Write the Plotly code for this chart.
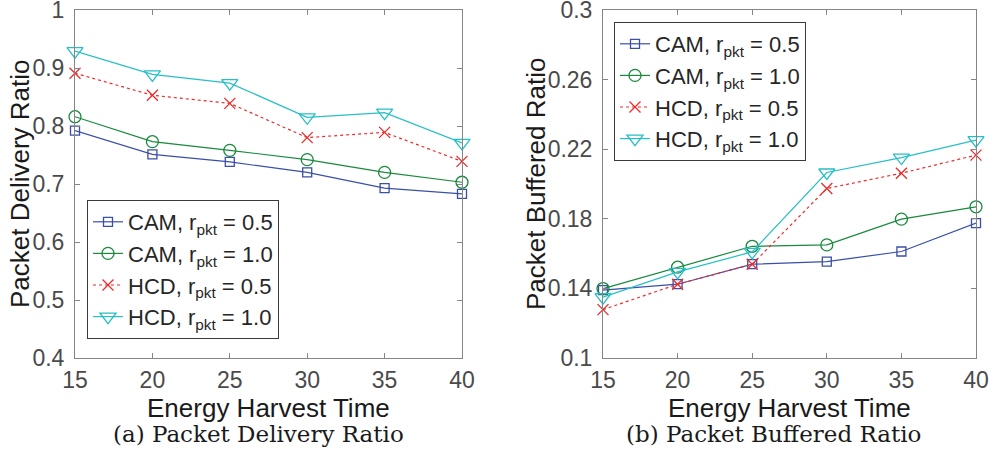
import plotly.graph_objects as go

x_vals = [15, 20, 25, 30, 35, 40]

series_names = ["CAM, r<sub>pkt</sub> = 0.5", "CAM, r<sub>pkt</sub> = 1.0",
                "HCD, r<sub>pkt</sub> = 0.5", "HCD, r<sub>pkt</sub> = 1.0"]

pdr_cam_05 = [0.792, 0.751, 0.738, 0.720, 0.693, 0.683]
pdr_cam_10 = [0.816, 0.773, 0.758, 0.742, 0.720, 0.703]
pdr_hcd_05 = [0.891, 0.853, 0.839, 0.780, 0.789, 0.739]
pdr_hcd_10 = [0.929, 0.889, 0.874, 0.815, 0.823, 0.771]

pbr_cam_05 = [0.139, 0.1424, 0.1539, 0.1554, 0.1612, 0.1775]
pbr_cam_10 = [0.1399, 0.1522, 0.1642, 0.1650, 0.1798, 0.1869]
pbr_hcd_05 = [0.1278, 0.1424, 0.1539, 0.1974, 0.2062, 0.2166]
pbr_hcd_10 = [0.1350, 0.1495, 0.1610, 0.2066, 0.2152, 0.2252]

left_ticks = [0.4, 0.5, 0.6, 0.7, 0.8, 0.9, 1.0]
left_ticktext = ["0.4", "0.5", "0.6", "0.7", "0.8", "0.9", "1"]
right_ticks = [0.1, 0.14, 0.18, 0.22, 0.26, 0.3]
right_ticktext = ["0.1", "0.14", "0.18", "0.22", "0.26", "0.3"]

colors = ["#3a4fa8", "#178a3c", "#ee2a2a", "#26bfc6"]
symbols = ["square-open", "circle-open", "x-thin-open", "triangle-down-open"]
msizes = [9, 12, 11, 14]
dashes = ["solid", "solid", "dot", "solid"]

fig = go.Figure()

left_data = [pdr_cam_05, pdr_cam_10, pdr_hcd_05, pdr_hcd_10]
right_data = [pbr_cam_05, pbr_cam_10, pbr_hcd_05, pbr_hcd_10]

for i in range(4):
    fig.add_trace(go.Scatter(
        x=x_vals, y=left_data[i], name=series_names[i], mode="lines+markers",
        line=dict(color=colors[i], width=1.2, dash=dashes[i]),
        marker=dict(symbol=symbols[i], size=msizes[i], color=colors[i],
                    line=dict(color=colors[i], width=1.3)),
        cliponaxis=False,
        xaxis="x", yaxis="y", legend="legend"))
for i in range(4):
    fig.add_trace(go.Scatter(
        x=x_vals, y=right_data[i], name=series_names[i], mode="lines+markers",
        line=dict(color=colors[i], width=1.2, dash=dashes[i]),
        marker=dict(symbol=symbols[i], size=msizes[i], color=colors[i],
                    line=dict(color=colors[i], width=1.3)),
        cliponaxis=False,
        xaxis="x2", yaxis="y2", legend="legend2"))

axis_common = dict(
    showline=True, linecolor="#858585", linewidth=1, mirror="ticks",
    ticks="inside", ticklen=5, tickcolor="#858585", tickwidth=1,
    showgrid=False, zeroline=False, ticklabeloverflow="allow", automargin=False,
    tickfont=dict(family="Liberation Sans, Arial, sans-serif", size=23, color="#4a4a4a"),
)

W, H = 990, 450
ydom = [1 - 358 / H, 1 - 10 / H]

legend_font = dict(family="Liberation Sans, Arial, sans-serif", size=22, color="#262626")

fig.update_layout(
    width=W, height=H, margin=dict(l=0, r=0, t=0, b=0, autoexpand=False),
    paper_bgcolor="white", plot_bgcolor="white",
    font=dict(family="Liberation Sans, Arial, sans-serif", color="#262626"),
    xaxis=dict(domain=[75 / W, 462 / W], range=[15, 40], tickvals=x_vals, anchor="y",
               ticklabelstandoff=1, **axis_common),
    yaxis=dict(domain=ydom, range=[0.4, 1.0], tickvals=left_ticks, ticktext=left_ticktext,
               anchor="x", ticklabelstandoff=5, **axis_common),
    xaxis2=dict(domain=[603 / W, 976 / W], range=[15, 40], tickvals=x_vals, anchor="y2",
                ticklabelstandoff=1, **axis_common),
    yaxis2=dict(domain=ydom, range=[0.1, 0.3], tickvals=right_ticks, ticktext=right_ticktext,
                anchor="x2", ticklabelstandoff=5, **axis_common),
    legend=dict(x=87 / W, y=1 - 200 / H, xanchor="left", yanchor="top",
                bordercolor="#3a3a3a", borderwidth=1, bgcolor="white",
                font=legend_font, itemwidth=30, tracegroupgap=0),
    legend2=dict(x=614 / W, y=1 - 22 / H, xanchor="left", yanchor="top",
                 bordercolor="#3a3a3a", borderwidth=1, bgcolor="white",
                 font=legend_font, itemwidth=30, tracegroupgap=0),
)

ann_font = dict(family="Liberation Sans, Arial, sans-serif", size=26, color="#1a1a1a")
cap_font = dict(family="DejaVu Serif, Liberation Serif, serif", size=23, color="#1a1a1a")
annotations = [
    dict(text="Energy Harvest Time", x=268.5 / W, y=1 - 408 / H, font=ann_font),
    dict(text="Energy Harvest Time", x=789.5 / W, y=1 - 408 / H, font=ann_font),
    dict(text="Packet Delivery Ratio", x=20 / W, y=1 - 184 / H, font=ann_font, textangle=-90),
    dict(text="Packet Buffered Ratio", x=536 / W, y=1 - 184 / H, font=ann_font, textangle=-90),
    dict(text="(a) Packet Delivery Ratio", x=258 / W, y=1 - 434 / H, font=cap_font),
    dict(text="(b) Packet Buffered Ratio", x=773 / W, y=1 - 434 / H, font=cap_font),
]
for a in annotations:
    fig.add_annotation(xref="paper", yref="paper", showarrow=False,
                       xanchor="center", yanchor="middle", **a)

fig.write_html("out.html")
